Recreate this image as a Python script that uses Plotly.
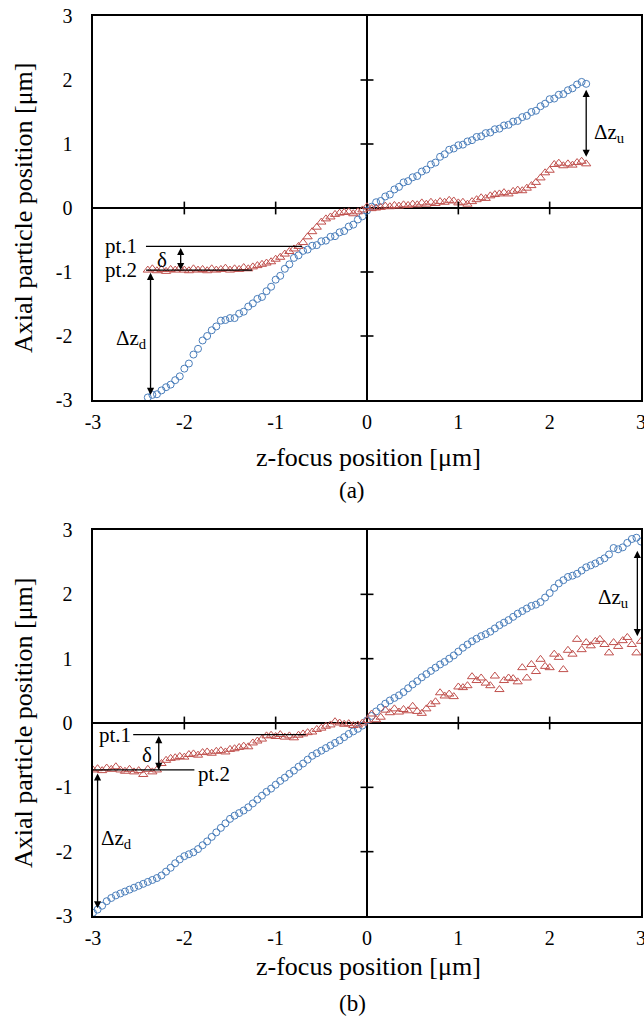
import plotly.graph_objects as go

# ---------------- data ----------------
tick_vals = [-3, -2, -1, 0, 1, 2, 3]
tick_text = ["-3", "-2", "-1", "0", "1", "2", "3"]

# panel (a)
xa = [-2.40, -2.35, -2.30, -2.25, -2.20, -2.15, -2.10, -2.05, -2.00, -1.95,
      -1.90, -1.85, -1.80, -1.75, -1.70, -1.65, -1.60, -1.55, -1.50, -1.45,
      -1.40, -1.35, -1.30, -1.25, -1.20, -1.15, -1.10, -1.05, -1.00, -0.95,
      -0.90, -0.85, -0.80, -0.75, -0.70, -0.65, -0.60, -0.55, -0.50, -0.45,
      -0.40, -0.35, -0.30, -0.25, -0.20, -0.15, -0.10, -0.05, 0.00, 0.05,
      0.10, 0.15, 0.20, 0.25, 0.30, 0.35, 0.40, 0.45, 0.50, 0.55,
      0.60, 0.65, 0.70, 0.75, 0.80, 0.85, 0.90, 0.95, 1.00, 1.05,
      1.10, 1.15, 1.20, 1.25, 1.30, 1.35, 1.40, 1.45, 1.50, 1.55,
      1.60, 1.65, 1.70, 1.75, 1.80, 1.85, 1.90, 1.95, 2.00, 2.05,
      2.10, 2.15, 2.20, 2.25, 2.30, 2.35, 2.40]
blue_a = [-2.96, -2.92, -2.91, -2.85, -2.80, -2.76, -2.69, -2.63, -2.51, -2.43,
          -2.29, -2.20, -2.07, -2.00, -1.91, -1.85, -1.76, -1.75, -1.72, -1.72,
          -1.65, -1.62, -1.54, -1.49, -1.42, -1.39, -1.30, -1.23, -1.12, -1.06,
          -0.95, -0.88, -0.78, -0.74, -0.67, -0.65, -0.59, -0.58, -0.52, -0.51,
          -0.45, -0.44, -0.38, -0.36, -0.29, -0.26, -0.18, -0.13, -0.04, 0.02,
          0.09, 0.11, 0.18, 0.21, 0.29, 0.33, 0.40, 0.42, 0.48, 0.50,
          0.57, 0.60, 0.68, 0.71, 0.80, 0.84, 0.91, 0.93, 0.98, 0.99,
          1.04, 1.06, 1.11, 1.12, 1.17, 1.18, 1.23, 1.24, 1.29, 1.30,
          1.35, 1.36, 1.42, 1.44, 1.50, 1.52, 1.59, 1.63, 1.70, 1.71,
          1.77, 1.78, 1.84, 1.87, 1.93, 1.97, 1.94]
red_a = [-0.97, -0.95, -0.98, -0.96, -0.99, -0.96, -0.97, -0.94, -0.97, -0.98,
         -0.95, -0.97, -0.96, -0.98, -0.95, -0.97, -0.96, -0.94, -0.97, -0.95,
         -0.96, -0.93, -0.95, -0.92, -0.90, -0.88, -0.86, -0.84, -0.80, -0.77,
         -0.72, -0.68, -0.64, -0.60, -0.54, -0.45, -0.37, -0.30, -0.22, -0.17,
         -0.14, -0.10, -0.08, -0.07, -0.06, -0.09, -0.06, -0.03, 0.02, -0.01,
         0.00, 0.01, 0.03, 0.02, 0.04, 0.03, 0.05, 0.04, 0.06, 0.05,
         0.08, 0.06, 0.09, 0.07, 0.10, 0.09, 0.12, 0.11, 0.08, 0.09,
         0.06, 0.10, 0.13, 0.16, 0.15, 0.19, 0.21, 0.22, 0.24, 0.22,
         0.26, 0.28, 0.27, 0.31, 0.35, 0.40, 0.47, 0.55, 0.59, 0.68,
         0.70, 0.66, 0.69, 0.67, 0.71, 0.73, 0.69]

# panel (b)
xb = [-3.00, -2.95, -2.90, -2.85, -2.80, -2.75, -2.70, -2.65, -2.60, -2.55,
      -2.50, -2.45, -2.40, -2.35, -2.30, -2.25, -2.20, -2.15, -2.10, -2.05,
      -2.00, -1.95, -1.90, -1.85, -1.80, -1.75, -1.70, -1.65, -1.60, -1.55,
      -1.50, -1.45, -1.40, -1.35, -1.30, -1.25, -1.20, -1.15, -1.10, -1.05,
      -1.00, -0.95, -0.90, -0.85, -0.80, -0.75, -0.70, -0.65, -0.60, -0.55,
      -0.50, -0.45, -0.40, -0.35, -0.30, -0.25, -0.20, -0.15, -0.10, -0.05,
      0.00, 0.05, 0.10, 0.15, 0.20, 0.25, 0.30, 0.35, 0.40, 0.45,
      0.50, 0.55, 0.60, 0.65, 0.70, 0.75, 0.80, 0.85, 0.90, 0.95,
      1.00, 1.05, 1.10, 1.15, 1.20, 1.25, 1.30, 1.35, 1.40, 1.45,
      1.50, 1.55, 1.60, 1.65, 1.70, 1.75, 1.80, 1.85, 1.90, 1.95,
      2.00, 2.05, 2.10, 2.15, 2.20, 2.25, 2.30, 2.35, 2.40, 2.45,
      2.50, 2.55, 2.60, 2.65, 2.70, 2.75, 2.80, 2.85, 2.90, 2.95,
      3.00]
blue_b = [-2.95, -2.90, -2.84, -2.77, -2.72, -2.68, -2.65, -2.62, -2.59, -2.56,
          -2.53, -2.50, -2.47, -2.44, -2.41, -2.37, -2.31, -2.25, -2.18, -2.12,
          -2.07, -2.04, -2.01, -1.96, -1.90, -1.84, -1.77, -1.70, -1.63, -1.56,
          -1.49, -1.44, -1.40, -1.36, -1.31, -1.25, -1.19, -1.13, -1.07, -1.02,
          -0.96, -0.90, -0.85, -0.79, -0.74, -0.68, -0.63, -0.57, -0.51, -0.47,
          -0.43, -0.39, -0.35, -0.31, -0.27, -0.22, -0.17, -0.13, -0.09, -0.04,
          0.04, 0.11, 0.18, 0.24, 0.30, 0.35, 0.39, 0.43, 0.48, 0.54,
          0.60, 0.65, 0.71, 0.76, 0.81, 0.86, 0.91, 0.95, 1.00, 1.05,
          1.11, 1.17, 1.22, 1.27, 1.31, 1.35, 1.38, 1.42, 1.47, 1.52,
          1.56, 1.60, 1.65, 1.70, 1.74, 1.78, 1.82, 1.84, 1.88, 1.95,
          2.02, 2.10, 2.17, 2.22, 2.27, 2.29, 2.32, 2.37, 2.42, 2.45,
          2.48, 2.52, 2.56, 2.62, 2.72, 2.70, 2.73, 2.80, 2.86, 2.88,
          2.82]
red_b = [-0.73, -0.71, -0.74, -0.70, -0.72, -0.68, -0.73, -0.75, -0.72, -0.76,
         -0.74, -0.80, -0.72, -0.76, -0.73, -0.63, -0.58, -0.55, -0.54, -0.52,
         -0.53, -0.49, -0.48, -0.50, -0.46, -0.45, -0.47, -0.44, -0.43, -0.45,
         -0.41, -0.40, -0.38, -0.36, -0.37, -0.31, -0.28, -0.25, -0.20, -0.19,
         -0.21, -0.18, -0.22, -0.20, -0.23, -0.19, -0.17, -0.15, -0.14, -0.10,
         -0.08, -0.05, -0.03, 0.02, 0.00, -0.02, -0.01, -0.04, -0.03, 0.00,
         0.04, 0.14, 0.05, 0.09, 0.20, 0.16, 0.22, 0.17, 0.21, 0.19,
         0.26, 0.18, 0.15, 0.22, 0.29, 0.33, 0.47, 0.42, 0.45, 0.41,
         0.56, 0.55, 0.58, 0.72, 0.66, 0.70, 0.62, 0.58, 0.73, 0.52,
         0.66, 0.70, 0.69, 0.64, 0.86, 0.70, 0.91, 0.80, 0.99, 0.88,
         0.86, 1.07, 1.02, 0.83, 1.13, 1.07, 1.30, 1.14, 1.25, 1.20,
         1.27, 1.30, 1.22, 1.09, 1.25, 1.19, 1.28, 1.33, 1.22, 1.09,
         1.27]

# ---------------- style ----------------
BLUE = "#4a7ebb"
RED = "#c0504d"
FONT = "Liberation Serif"
W, H = 644, 1021


def px(X):
    return X / W


def py(Y):
    return 1 - Y / H


fig = go.Figure()

panels = [
    ("x", "y", xa, blue_a, red_a),
    ("x2", "y2", xb, blue_b, red_b),
]
for xr, yr, xs, bl, rd in panels:
    fig.add_trace(go.Scatter(x=xs, y=bl, mode="markers", xaxis=xr, yaxis=yr,
                             marker=dict(symbol="circle-open", size=7, color=BLUE,
                                         line=dict(width=1, color=BLUE)),
                             showlegend=False, hoverinfo="skip"))
    fig.add_trace(go.Scatter(x=xs, y=rd, mode="markers", xaxis=xr, yaxis=yr,
                             marker=dict(symbol="triangle-up-open", size=8, color=RED,
                                         line=dict(width=1, color=RED)),
                             showlegend=False, hoverinfo="skip"))

axis_common = dict(range=[-3, 3], tickvals=tick_vals, ticktext=tick_text,
                   showgrid=False, zeroline=True, zerolinecolor="black",
                   zerolinewidth=1.6, showline=True, mirror=True,
                   linecolor="black", linewidth=1.6, ticks="outside",
                   tickcolor="rgba(0,0,0,0)", automargin=False,
                   ticklabeloverflow="allow",
                   tickfont=dict(family=FONT, size=20, color="black"),
                   fixedrange=True)

xdom = [px(93), px(641)]
fig.update_layout(
    width=W, height=H,
    autosize=False,
    margin=dict(l=0, r=0, t=0, b=0, pad=0),
    paper_bgcolor="white", plot_bgcolor="white",
    showlegend=False,
    font=dict(family=FONT, color="black"),
    xaxis=dict(domain=xdom, anchor="y", ticklen=3, **axis_common),
    yaxis=dict(domain=[py(400), py(16)], anchor="x", ticklen=15, **axis_common),
    xaxis2=dict(domain=xdom, anchor="y2", ticklen=3, **axis_common),
    yaxis2=dict(domain=[py(916), py(530)], anchor="x2", ticklen=15, **axis_common),
)

# crossing tick marks on the central axes
shapes = []
for xr, yr in [("x", "y"), ("x2", "y2")]:
    for t in tick_vals:
        if abs(t) in (0, 3):
            continue
        shapes.append(dict(type="line", xref=xr, yref=yr, x0=t, x1=t, y0=-0.1, y1=0.1,
                           line=dict(color="black", width=1.6)))
        shapes.append(dict(type="line", xref=xr, yref=yr, x0=-0.071, x1=0.071, y0=t, y1=t,
                           line=dict(color="black", width=1.6)))

# pt.1 / pt.2 reference lines
shapes += [
    dict(type="line", xref="x", yref="y", x0=-2.42, x1=-0.71, y0=-0.6, y1=-0.6,
         line=dict(color="black", width=1.3)),
    dict(type="line", xref="x", yref="y", x0=-2.42, x1=-1.26, y0=-0.97, y1=-0.97,
         line=dict(color="black", width=1.3)),
    dict(type="line", xref="x2", yref="y2", x0=-2.56, x1=-0.67, y0=-0.18, y1=-0.18,
         line=dict(color="black", width=1.3)),
    dict(type="line", xref="x2", yref="y2", x0=-3.0, x1=-1.89, y0=-0.73, y1=-0.73,
         line=dict(color="black", width=1.3)),
]
fig.update_layout(shapes=shapes)

ann = []


def arrow(xr, yr, x, y0, y1):
    ann.append(dict(xref=xr, yref=yr, axref=xr, ayref=yr, x=x, y=y1, ax=x, ay=y0,
                    text="", showarrow=True, arrowside="end+start",
                    arrowhead=2, startarrowhead=2, arrowsize=1.1, startarrowsize=1.1,
                    arrowwidth=1.3, arrowcolor="black", standoff=0, startstandoff=0))


def label(xr, yr, x, y, text, size=21, xanchor="center"):
    ann.append(dict(xref=xr, yref=yr, x=x, y=y, text=text, showarrow=False,
                    xanchor=xanchor, yanchor="middle",
                    font=dict(family=FONT, size=size, color="black")))


# panel (a) annotations
arrow("x", "y", -2.04, -0.6, -0.97)
arrow("x", "y", -2.37, -0.99, -2.92)
arrow("x", "y", 2.40, 1.87, 0.80)
label("x", "y", -2.50, -0.6, "pt.1", xanchor="right")
label("x", "y", -2.50, -0.97, "pt.2", xanchor="right")
label("x", "y", -2.25, -0.81, "δ")
label("x", "y", -2.58, -2.04, "Δz<sub>d</sub>")
label("x", "y", 2.66, 1.17, "Δz<sub>u</sub>")

# panel (b) annotations
arrow("x2", "y2", -2.28, -0.18, -0.73)
arrow("x2", "y2", -2.95, -0.76, -2.88)
arrow("x2", "y2", 2.96, 2.70, 1.35)
label("x2", "y2", -2.96, -0.18, "pt.1", xanchor="left")
label("x2", "y2", -1.87, -0.79, "pt.2", xanchor="left")
label("x2", "y2", -2.41, -0.49, "δ")
label("x2", "y2", -2.74, -1.80, "Δz<sub>d</sub>")
label("x2", "y2", 2.70, 1.95, "Δz<sub>u</sub>")

# titles and panel labels
for Yc, Yx, Ylab, tag in [(208, 457, 490, "(a)"), (723, 966, 1003, "(b)")]:
    ann.append(dict(xref="paper", yref="paper", x=px(368), y=py(Yx), text="z-focus position [μm]",
                    showarrow=False, xanchor="center", yanchor="middle",
                    font=dict(family=FONT, size=26, color="black")))
    ann.append(dict(xref="paper", yref="paper", x=px(23), y=py(Yc), text="Axial particle position [μm]",
                    showarrow=False, xanchor="center", yanchor="middle", textangle=-90,
                    font=dict(family=FONT, size=26, color="black")))
    ann.append(dict(xref="paper", yref="paper", x=px(352), y=py(Ylab), text=tag,
                    showarrow=False, xanchor="center", yanchor="middle",
                    font=dict(family=FONT, size=23, color="black")))

fig.update_layout(annotations=ann)

fig.write_html("out.html",
               config={"displayModeBar": False, "staticPlot": True},
               post_script="document.body.style.margin='0';document.body.style.overflow='hidden';")
